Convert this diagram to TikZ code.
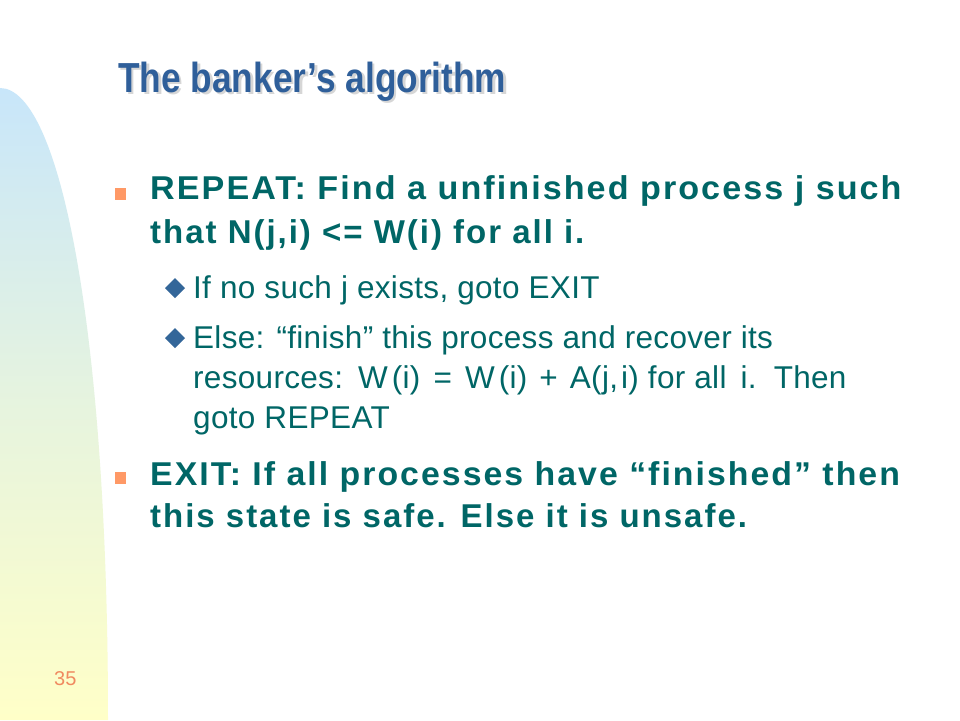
\documentclass[tikz,border=0pt]{standalone}
\usepackage{fontspec}
\setmainfont{Liberation Sans}
\newfontfamily\mainbold[LetterSpace=6]{Liberation Sans Bold}
\newfontfamily\subfont[LetterSpace=1]{Liberation Sans}
\newfontfamily\titlefont{Liberation Sans Bold}
\definecolor{teal1}{HTML}{006666}
\definecolor{orng}{HTML}{FF9966}
\definecolor{dblue}{HTML}{336699}
\definecolor{ttlblue}{HTML}{2F5F9A}
\definecolor{ltblue}{HTML}{C8E6FA}
\definecolor{ltyellow}{HTML}{FFFFC8}
\definecolor{pgnum}{HTML}{F08A60}
\tikzset{
  mainline/.style={anchor=base west, inner sep=0pt, text=teal1, font=\mainbold\fontsize{33}{40}\selectfont},
  subline/.style={anchor=base west, inner sep=0pt, text=teal1, font=\subfont\fontsize{31.5}{38}\selectfont},
  titletext/.style={anchor=base west, inner sep=0pt, font=\titlefont\fontsize{42}{48}\selectfont, xscale=0.84},
  sqbullet/.style={fill=orng, draw=none},
  dmbullet/.style={fill=dblue, draw=none},
}
\begin{document}
\begin{tikzpicture}[x=1pt,y=-1pt]
\useasboundingbox (0,0) rectangle (960,720);
\fill[white] (0,0) rectangle (960,720);
% left gradient shape
\shade[top color=ltblue, bottom color=ltyellow, middle color=ltblue!45!ltyellow]
  (0,88) .. controls (60,88) and (108,330) .. (108,720) -- (0,720) -- cycle;
% title
\node[titletext, text=black!16] (titleshadow) at (120.5,94.5) {The banker’s algorithm};
\node[titletext, text=ttlblue] (title) at (118,92) {The banker’s algorithm};
% bullets
\fill[sqbullet] (115,188) rectangle (126,200);
\fill[sqbullet] (115,472) rectangle (126,484);
\fill[dmbullet] (165,288) -- (175,278) -- (185,288) -- (175,298) -- cycle;
\fill[dmbullet] (165,338) -- (175,328) -- (185,338) -- (175,348) -- cycle;
% text lines
\node[mainline, xscale=1.034] (m1) at (150,199.5) {REPEAT: Find a unfinished process j such};
\node[mainline] (m2) at (150,243) {that N(j,i) <= W(i) for all i.};
\node[subline] (s1) at (193,298) {If no such j exists, goto EXIT};
\node[subline] (s2) at (193,348) {Else: “finish” this process and recover its};
\node[subline] (s3) at (193,388) {resources: \kern3pt W\kern4pt(i) \kern4pt= \kern4pt W\kern4pt(i) \kern3pt+ \kern3pt A(j,\kern3pt i) for all \kern5pt i. \kern5pt Then};
\node[subline] (s4) at (193,428) {goto REPEAT};
\node[mainline, xscale=1.025] (m3) at (150,485) {EXIT: If all processes have “finished” then};
\node[mainline] (m4) at (150,527) {this state is safe. Else it is unsafe.};
% page number
\node[anchor=base west, inner sep=0pt, text=pgnum, font=\fontsize{20}{24}\selectfont] (pnum) at (54,685) {35};
\end{tikzpicture}
\end{document}
